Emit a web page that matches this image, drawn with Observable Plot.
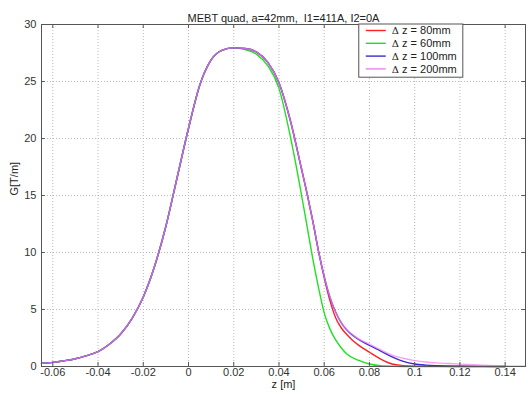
<!DOCTYPE html>
<html>
<head>
<meta charset="utf-8">
<script src="https://cdn.jsdelivr.net/npm/d3@7"></script>
<script src="https://cdn.jsdelivr.net/npm/@observablehq/plot@0.6"></script>
<style>
  html, body { margin: 0; padding: 0; background: white; }
  svg text { white-space: pre; }
</style>
</head>
<body>
<div id="chart"></div>
<script>
// Shared rising edge (all four measurements coincide here)
const riseZ = [-0.065, -0.06, -0.055, -0.05, -0.045, -0.04, -0.035, -0.03, -0.025, -0.02, -0.015, -0.01, -0.005, 0, 0.005, 0.01, 0.015, 0.02];
const riseG = [0.28, 0.36, 0.5, 0.68, 0.95, 1.3, 1.95, 2.85, 4.2, 6.1, 8.8, 12.3, 16.6, 20.9, 24.7, 26.9, 27.75, 27.95];

// Falling edge / tails per series
const fall80Z = [0.025, 0.03, 0.035, 0.04, 0.045, 0.05, 0.0525, 0.055, 0.0575, 0.06, 0.0625, 0.065, 0.0675, 0.07, 0.0725, 0.075, 0.08, 0.085, 0.09, 0.095, 0.1, 0.11, 0.12, 0.14];
const fall80G = [27.9, 27.6, 26.7, 24.9, 21.6, 17.3, 15.1, 12.7, 10.1, 7.8, 5.8, 4.3, 3.4, 2.8, 2.3, 1.9, 1.25, 0.65, 0.22, 0.08, 0.03, 0.01, 0, 0];

const fall60Z = [0.025, 0.03, 0.035, 0.04, 0.045, 0.0475, 0.05, 0.0525, 0.055, 0.0575, 0.06, 0.0625, 0.065, 0.0675, 0.07, 0.075, 0.08, 0.085, 0.09, 0.1, 0.14];
const fall60G = [27.8, 27.4, 26.4, 24.4, 20.2, 17.7, 15.0, 12.2, 9.4, 6.9, 4.7, 3.3, 2.35, 1.65, 1.1, 0.55, 0.22, 0.06, 0.02, 0, 0];

const fall100Z = [0.025, 0.03, 0.035, 0.04, 0.045, 0.05, 0.0525, 0.055, 0.0575, 0.06, 0.0625, 0.065, 0.0675, 0.07, 0.0725, 0.075, 0.08, 0.085, 0.09, 0.095, 0.1, 0.105, 0.11, 0.12, 0.13, 0.14];
const fall100G = [27.9, 27.6, 26.7, 24.9, 21.6, 17.3, 15.1, 12.7, 10.1, 7.9, 6.1, 4.8, 3.85, 3.2, 2.75, 2.4, 1.85, 1.35, 0.85, 0.45, 0.22, 0.12, 0.07, 0.03, 0.01, 0];

const fall200Z = [0.025, 0.03, 0.035, 0.04, 0.045, 0.05, 0.0525, 0.055, 0.0575, 0.06, 0.0625, 0.065, 0.0675, 0.07, 0.0725, 0.075, 0.08, 0.085, 0.09, 0.095, 0.1, 0.105, 0.11, 0.115, 0.12, 0.13, 0.14, 0.149];
const fall200G = [27.9, 27.6, 26.7, 24.9, 21.6, 17.3, 15.1, 12.7, 10.1, 7.9, 6.1, 4.8, 3.85, 3.2, 2.8, 2.45, 1.95, 1.45, 1.0, 0.72, 0.52, 0.4, 0.32, 0.26, 0.21, 0.11, 0.04, 0.02];

const seriesNames = ["\u0394 z = 80mm", "\u0394 z = 60mm", "\u0394 z = 100mm", "\u0394 z = 200mm"];
const seriesColors = ["#ff2020", "#20e020", "#3a2ad0", "#f080f0"];
const seriesOpacity = [1, 1, 1, 0.75];
const fallsZ = [fall80Z, fall60Z, fall100Z, fall200Z];
const fallsG = [fall80G, fall60G, fall100G, fall200G];

const xTicks = [-0.06, -0.04, -0.02, 0, 0.02, 0.04, 0.06, 0.08, 0.1, 0.12, 0.14];
const yTicks = [0, 5, 10, 15, 20, 25, 30];
const titleText = "MEBT quad, a=42mm,  I1=411A, I2=0A";
const xLabel = "z [m]";
const yLabel = "G[T/m]";

const xDomain = [-0.065, 0.149];
const yDomain = [0, 30];

const seriesRows = seriesNames.map((name, i) => {
  const zs = riseZ.concat(fallsZ[i]);
  const gs = riseG.concat(fallsG[i]);
  return zs.map((z, k) => ({z, g: gs[k], series: name}));
});

const fmt = d => String(+d.toFixed(2));
const axisColor = "#555";

const plot = Plot.plot({
  width: 528,
  height: 395,
  marginLeft: 41,
  marginRight: 3,
  marginTop: 24,
  marginBottom: 29,
  style: {fontFamily: "'Liberation Sans', Arial, sans-serif", fontSize: "11px", background: "white", color: "#222"},
  x: {domain: xDomain, ticks: xTicks, tickFormat: fmt},
  y: {domain: yDomain, ticks: yTicks},
  marks: [
    Plot.gridX(xTicks, {stroke: "#b8b8b8", strokeOpacity: 1, strokeDasharray: "1,2"}),
    Plot.gridY(yTicks, {stroke: "#b8b8b8", strokeOpacity: 1, strokeDasharray: "1,2"}),
    ...seriesRows.map((rows, i) => Plot.line(rows, {x: "z", y: "g", stroke: seriesColors[i], strokeOpacity: seriesOpacity[i], strokeWidth: 1.4, curve: "monotone-x"})),
    Plot.ruleX(xTicks, {y1: yDomain[0], y2: yDomain[0] + 0.35, stroke: axisColor}),
    Plot.ruleX(xTicks, {y1: yDomain[1], y2: yDomain[1] - 0.35, stroke: axisColor}),
    Plot.ruleY(yTicks, {x1: xDomain[0], x2: xDomain[0] + 0.0016, stroke: axisColor}),
    Plot.ruleY(yTicks, {x1: xDomain[1], x2: xDomain[1] - 0.0016, stroke: axisColor}),
    Plot.frame({stroke: axisColor}),
    Plot.axisX(xTicks, {tickSize: 0, tickPadding: 2, label: null, tickFormat: fmt, fill: "#333"}),
    Plot.axisY(yTicks, {tickSize: 0, tickPadding: 5, label: null, fill: "#333"}),
    Plot.text([titleText], {frameAnchor: "top", dy: -10, fill: "#222"}),
    Plot.text([xLabel], {frameAnchor: "bottom", dy: 21, fill: "#222"}),
    Plot.text([yLabel], {frameAnchor: "left", dx: -27, rotate: -90, fill: "#222"})
  ]
});

document.getElementById("chart").appendChild(plot);

// Legend box inside the axes (top-right area)
const svg = d3.select(plot);
const xs = plot.scale("x"), ys = plot.scale("y");
const lx0 = xs.apply(0.0755), lx1 = xs.apply(0.1215);
const ly0 = ys.apply(30);
const rowH = 12.8;
const lg = svg.append("g")
  .attr("font-family", "'Liberation Sans', Arial, sans-serif")
  .attr("font-size", 11)
  .attr("text-anchor", "start");
lg.append("rect").attr("x", lx0).attr("y", ly0).attr("width", lx1 - lx0).attr("height", rowH * seriesNames.length + 2)
  .attr("fill", "white").attr("stroke", axisColor);
seriesNames.forEach((name, i) => {
  const cy = ly0 + 6.5 + i * rowH;
  lg.append("line").attr("x1", lx0 + 7).attr("x2", lx0 + 27).attr("y1", cy).attr("y2", cy)
    .attr("stroke", seriesColors[i]).attr("stroke-width", 1.4);
  const t = lg.append("text").attr("x", lx0 + 33).attr("y", cy).attr("dy", "0.35em")
    .attr("text-anchor", "start").attr("fill", "#222");
  t.append("tspan").attr("font-family", "'DejaVu Serif', serif").attr("font-size", 10).text("\u0394");
  t.append("tspan").text(name.slice(1));
});
</script>
</body>
</html>
